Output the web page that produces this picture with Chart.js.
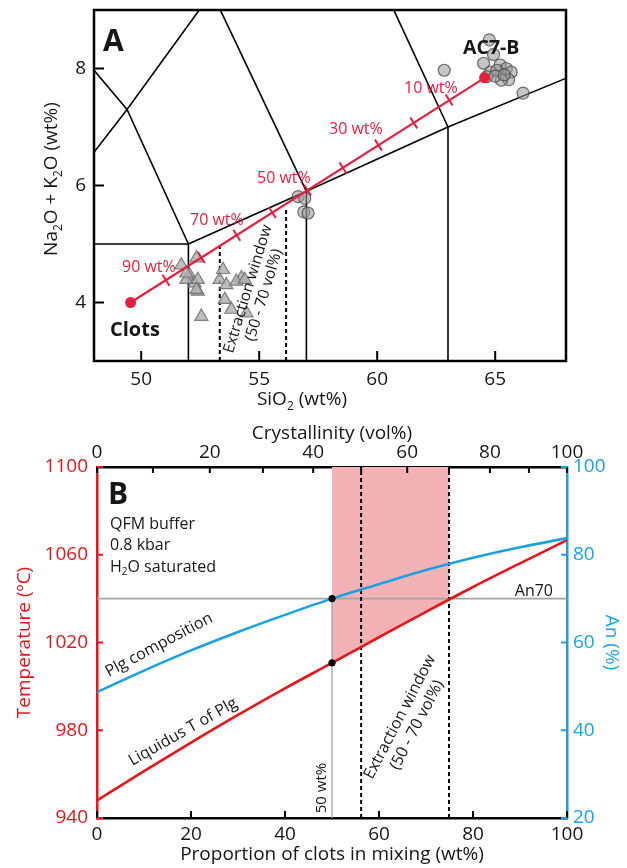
<!DOCTYPE html>
<html>
<head>
<meta charset="utf-8">
<title>Clots mixing</title>
<script src="https://cdn.jsdelivr.net/npm/chart.js@4.4.1/dist/chart.umd.min.js"></script>
<style>
  html, body { margin: 0; padding: 0; background: #fff; }
  canvas { position: absolute; left: 0; }
  #chartA { top: 0; }
  #chartB { top: 405px; }
</style>
</head>
<body>
<canvas id="chartA" width="627" height="415"></canvas>
<canvas id="chartB" width="627" height="463"></canvas>
<script>
// ---------- panel A : TAS diagram ----------
var SIO2_TICKS = [50, 55, 60, 65];
var ALK_TICKS = [4, 6, 8];

// TAS field boundaries, [SiO2, Na2O+K2O]
var TAS_BOUNDARIES = [
  [[45, 5], [52, 5], [52, 0]],
  [[52, 5], [57, 5.9], [63, 7], [69, 8]],
  [[57, 0], [57, 5.9]],
  [[63, 0], [63, 7]],
  [[45, 9.4], [49.4, 7.3], [52, 5]],
  [[45, 5], [49.4, 7.3], [53, 9.3]],
  [[57, 5.9], [53, 9.3]],
  [[63, 7], [57.6, 11.7]]
];

// mixing end members : clots, AC7-B
var END_SIO2 = [49.55, 64.55];
var END_ALK = [4.0, 7.84];
// marks every 10 wt% clots (10 ... 90)
var MARK_SIO2 = [63.05, 61.55, 60.05, 58.55, 57.05, 55.55, 54.05, 52.55, 51.05];
var MARK_ALK = [7.46, 7.07, 6.69, 6.30, 5.92, 5.54, 5.15, 4.77, 4.38];

// extraction window (50 - 70 vol%)
var WIN_SIO2 = [53.33, 56.14];
var WIN_TOP_ALK = [4.95, 5.62];

// whole rock data
var CIRC_SIO2 = [64.75, 62.84, 64.93, 64.51, 65.21, 65.47, 65.68, 65.57, 65.26, 64.79, 65.07, 66.18, 64.65, 65.0, 65.38, 56.65, 56.93, 56.89, 57.07];
var CIRC_ALK = [8.49, 7.97, 8.24, 8.09, 8.06, 8.0, 7.94, 7.81, 7.80, 7.94, 7.97, 7.58, 7.86, 7.87, 7.89, 5.81, 5.78, 5.55, 5.53];
var TRI_SIO2 = [52.34, 51.70, 52.05, 51.91, 52.26, 52.40, 52.55, 51.91, 52.40, 52.34, 53.47, 53.32, 53.61, 54.25, 54.03, 53.54, 53.82, 54.46, 54.39];
var TRI_ALK = [4.76, 4.64, 4.47, 4.39, 4.33, 4.19, 3.76, 4.50, 4.39, 4.22, 4.56, 4.39, 4.30, 4.42, 4.36, 4.05, 3.88, 3.82, 4.39];

// ---------- panel B : mixing model ----------
var MIX_TICKS = [0, 20, 40, 60, 80, 100];
var TEMP_TICKS = [940, 980, 1020, 1060, 1100];
var AN_TICKS = [20, 40, 60, 80, 100];
// crystallinity (vol%) and where it falls on the wt% axis
var CRYST_VOL = [0, 10, 20, 30, 40, 50, 60, 70, 80, 90, 100];
var CRYST_WT = [0, 11.9, 24.0, 35.3, 46.0, 56.2, 66.0, 74.9, 83.6, 91.9, 100];

var MIX_WT = [0, 10, 20, 30, 40, 50, 60, 70, 80, 90, 100];
var LIQ_T = [948, 961.4, 974.4, 987.0, 999.1, 1010.7, 1022.4, 1034.0, 1045.3, 1056.1, 1066.7];
var AN_PLG = [48.7, 53.6, 58.2, 62.4, 66.3, 70.0, 73.3, 76.5, 79.3, 81.7, 83.8];

var WINDOW_WT = [50, 60, 70, 74.9];
var WINDOW_T = [1010.7, 1022.4, 1034.0, 1039.7];
var EXTRACT_WT = [56.2, 74.9];
var AN_REF = 70;
var REF_WT = 50;

var RED_A = '#e5203f';
var RED = '#e8141c';
var BLUE = '#1ba1e2';
var FONT = '"Open Sans", sans-serif';

Chart.defaults.font.family = FONT;
Chart.defaults.font.size = 19;
Chart.defaults.color = '#161616';

function pts(xs, ys) {
  return xs.map(function(x, i) { return { x: x, y: ys[i] }; });
}

function fixedTicks(values) {
  return function(s) { s.ticks = values.map(function(v) { return { value: v }; }); };
}

// keep the plot area where it is asked to be
function noPad(s) {
  s.paddingTop = 0; s.paddingBottom = 0; s.paddingLeft = 0; s.paddingRight = 0;
}

// ticks drawn on the inside of the frame
var innerTicks = {
  id: 'innerTicks',
  afterDraw: function(chart, args, opts) {
    var ctx = chart.ctx, a = chart.chartArea;
    (opts.axes || []).forEach(function(ax) {
      var s = chart.scales[ax.id];
      ctx.save();
      ctx.strokeStyle = ax.color;
      ctx.lineWidth = ax.width;
      s.ticks.forEach(function(t) {
        var p = s.getPixelForValue(t.value);
        ctx.beginPath();
        if (s.position === 'bottom') { ctx.moveTo(p, a.bottom); ctx.lineTo(p, a.bottom - ax.len); }
        else if (s.position === 'top') { ctx.moveTo(p, a.top); ctx.lineTo(p, a.top + ax.len); }
        else if (s.position === 'left') { ctx.moveTo(a.left, p); ctx.lineTo(a.left + ax.len, p); }
        else { ctx.moveTo(a.right, p); ctx.lineTo(a.right - ax.len, p); }
        ctx.stroke();
      });
      ctx.restore();
    });
  }
};

var frame = {
  id: 'frame',
  afterDatasetsDraw: function(chart, args, opts) {
    var a = chart.chartArea, ctx = chart.ctx;
    ctx.save();
    ctx.strokeStyle = '#000';
    ctx.lineWidth = opts.width;
    ctx.strokeRect(a.left, a.top, a.right - a.left, a.bottom - a.top);
    ctx.restore();
  }
};

// text with {n} subscripts
function richText(ctx, it) {
  var parts = it.text.split(/(\{[^}]*\})/).filter(function(p) { return p.length; });
  var w0 = it.bold ? 'bold ' : '';
  var full = w0 + it.size + 'px ' + FONT;
  var small = w0 + Math.round(it.size * 0.62) + 'px ' + FONT;
  var segs = [], w = 0;
  parts.forEach(function(p) {
    var sub = p.charAt(0) === '{';
    var t = sub ? p.slice(1, -1) : p;
    ctx.font = sub ? small : full;
    var sw = ctx.measureText(t).width;
    segs.push({ t: t, sub: sub, w: sw });
    w += sw;
  });
  ctx.save();
  ctx.translate(it.x, it.y);
  if (it.rot) ctx.rotate(it.rot * Math.PI / 180);
  ctx.fillStyle = it.color || '#161616';
  ctx.textBaseline = 'middle';
  ctx.textAlign = 'left';
  var x0 = it.align === 'left' ? 0 : (it.align === 'right' ? -w : -w / 2);
  segs.forEach(function(s) {
    ctx.font = s.sub ? small : full;
    ctx.fillText(s.t, x0, s.sub ? it.size * 0.32 : 0);
    x0 += s.w;
  });
  ctx.restore();
}

var notes = {
  id: 'notes',
  afterDraw: function(chart, args, opts) {
    (opts.items || []).forEach(function(it) { richText(chart.ctx, it); });
  }
};

// ---------- chart A ----------
var dsA = [];
dsA.push({ data: pts(END_SIO2, END_ALK), pointRadius: 5.5,
  pointBackgroundColor: RED_A, pointBorderColor: RED_A, pointBorderWidth: 0, order: 0 });
dsA.push({ data: pts(MARK_SIO2, MARK_ALK), pointStyle: 'line', rotation: 57.5, pointRadius: 6.5,
  pointBorderColor: RED_A, pointBorderWidth: 2, order: 1 });
dsA.push({ data: pts(END_SIO2, END_ALK), showLine: true, pointRadius: 0,
  borderColor: RED_A, borderWidth: 2.2, order: 2 });
dsA.push({ data: pts(CIRC_SIO2, CIRC_ALK), pointRadius: 6,
  pointBackgroundColor: 'rgba(150,150,150,0.55)', pointBorderColor: 'rgba(70,70,70,0.75)', pointBorderWidth: 1.2, order: 3 });
dsA.push({ data: pts(TRI_SIO2, TRI_ALK), pointStyle: 'triangle', pointRadius: 7.5,
  pointBackgroundColor: 'rgba(178,178,178,0.85)', pointBorderColor: 'rgba(115,115,115,0.9)', pointBorderWidth: 1.2, order: 4 });
WIN_SIO2.forEach(function(x, i) {
  dsA.push({ data: [{ x: x, y: 3 }, { x: x, y: WIN_TOP_ALK[i] }], showLine: true, pointRadius: 0,
    borderColor: '#000', borderWidth: 2, borderDash: [4, 3], order: 5 });
});
TAS_BOUNDARIES.forEach(function(line) {
  dsA.push({ data: line.map(function(p) { return { x: p[0], y: p[1] }; }), showLine: true, pointRadius: 0,
    borderColor: '#000', borderWidth: 1.6, order: 6 });
});

new Chart(document.getElementById('chartA').getContext('2d'), {
  type: 'scatter',
  data: { datasets: dsA },
  options: {
    responsive: false,
    animation: false,
    layout: { padding: { top: 10, right: 61, left: 0, bottom: 0 } },
    plugins: {
      legend: { display: false },
      tooltip: { enabled: false },
      frame: { width: 2.5 },
      innerTicks: { axes: [
        { id: 'x', len: 10, color: '#000', width: 2 },
        { id: 'y', len: 10, color: '#000', width: 2 }
      ] },
      notes: { items: [
        { text: 'A', x: 103, y: 42, size: 30, bold: true, align: 'left' },
        { text: 'AC7-B', x: 463, y: 48, size: 19.5, bold: true, align: 'left' },
        { text: 'Clots', x: 110, y: 330, size: 20, bold: true, align: 'left' },
        { text: '10 wt%', x: 404, y: 88, size: 16, color: RED_A, align: 'left' },
        { text: '30 wt%', x: 329, y: 129, size: 16, color: RED_A, align: 'left' },
        { text: '50 wt%', x: 257, y: 178, size: 16, color: RED_A, align: 'left' },
        { text: '70 wt%', x: 190, y: 220, size: 16, color: RED_A, align: 'left' },
        { text: '90 wt%', x: 122, y: 267, size: 16, color: RED_A, align: 'left' },
        { text: 'Extraction window', x: 248, y: 289, size: 15.5, rot: -73 },
        { text: '(50 - 70 vol%)', x: 264, y: 295, size: 15.5, rot: -73 },
        { text: 'SiO{2} (wt%)', x: 302, y: 400, size: 19 },
        { text: 'Na{2}O + K{2}O (wt%)', x: 52, y: 179, size: 19, rot: -90 }
      ] }
    },
    scales: {
      x: {
        type: 'linear', min: 48, max: 68,
        afterBuildTicks: fixedTicks(SIO2_TICKS),
        afterFit: function(s) { s.height = 54; noPad(s); },
        grid: { display: false, drawTicks: false },
        border: { display: false },
        ticks: { padding: 7, autoSkip: false, maxRotation: 0 }
      },
      y: {
        type: 'linear', min: 3, max: 9,
        afterBuildTicks: fixedTicks(ALK_TICKS),
        afterFit: function(s) { s.width = 94; noPad(s); },
        grid: { display: false, drawTicks: false },
        border: { display: false },
        ticks: { padding: 8, autoSkip: false }
      }
    }
  },
  plugins: [innerTicks, frame, notes]
});

// ---------- chart B ----------
var dsB = [];
dsB.push({ data: [{ x: REF_WT, y: AN_PLG[MIX_WT.indexOf(REF_WT)] }], yAxisID: 'yAn', pointRadius: 3.2,
  pointBackgroundColor: '#000', pointBorderColor: '#000', order: 0 });
dsB.push({ data: [{ x: REF_WT, y: LIQ_T[MIX_WT.indexOf(REF_WT)] }], yAxisID: 'yT', pointRadius: 3.2,
  pointBackgroundColor: '#000', pointBorderColor: '#000', order: 0 });
dsB.push({ data: pts(MIX_WT, AN_PLG), yAxisID: 'yAn', showLine: true, pointRadius: 0,
  borderColor: BLUE, borderWidth: 2.6, cubicInterpolationMode: 'monotone', order: 1 });
dsB.push({ data: pts(MIX_WT, LIQ_T), yAxisID: 'yT', showLine: true, pointRadius: 0,
  borderColor: RED, borderWidth: 2.6, cubicInterpolationMode: 'monotone', order: 2 });
EXTRACT_WT.forEach(function(x) {
  dsB.push({ data: [{ x: x, y: 20 }, { x: x, y: 100 }], yAxisID: 'yAn', showLine: true, pointRadius: 0,
    borderColor: '#000', borderWidth: 2, borderDash: [4, 3], order: 3 });
});
dsB.push({ data: [{ x: 0, y: AN_REF }, { x: 100, y: AN_REF }], yAxisID: 'yAn', showLine: true, pointRadius: 0,
  borderColor: '#a3a3a3', borderWidth: 1.6, order: 4 });
dsB.push({ data: [{ x: REF_WT, y: 20 }, { x: REF_WT, y: AN_REF }], yAxisID: 'yAn', showLine: true, pointRadius: 0,
  borderColor: '#a3a3a3', borderWidth: 1.3, order: 4 });
dsB.push({ data: pts(WINDOW_WT, WINDOW_T), yAxisID: 'yT', showLine: true, pointRadius: 0,
  borderWidth: 0, borderColor: 'rgba(0,0,0,0)', backgroundColor: '#f3b3b6', fill: 'end', order: 5 });

new Chart(document.getElementById('chartB').getContext('2d'), {
  type: 'scatter',
  data: { datasets: dsB },
  options: {
    responsive: false,
    animation: false,
    layout: { padding: 0 },
    plugins: {
      legend: { display: false },
      tooltip: { enabled: false },
      innerTicks: { axes: [
        { id: 'x', len: 7, color: '#000', width: 2 },
        { id: 'xTop', len: 6, color: '#000', width: 2 },
        { id: 'yT', len: 6, color: RED, width: 2 },
        { id: 'yAn', len: 6, color: BLUE, width: 2 }
      ] },
      notes: { items: [
        { text: 'B', x: 108, y: 90, size: 30, bold: true, align: 'left' },
        { text: 'QFM buffer', x: 110, y: 119, size: 16, align: 'left' },
        { text: '0.8 kbar', x: 110, y: 140, size: 16, align: 'left' },
        { text: 'H{2}O saturated', x: 110, y: 162, size: 16, align: 'left' },
        { text: 'An70', x: 553, y: 186, size: 16, align: 'right' },
        { text: 'Plg composition', x: 159, y: 240, size: 16, rot: -28 },
        { text: 'Liquidus T of Plg', x: 183, y: 327, size: 16, rot: -29.5 },
        { text: '50 wt%', x: 322, y: 383, size: 15, rot: -90 },
        { text: 'Extraction window', x: 400, y: 312, size: 16, rot: -62.5 },
        { text: '(50 - 70 vol%)', x: 417, y: 320, size: 16, rot: -62.5 }
      ] }
    },
    scales: {
      x: {
        type: 'linear', position: 'bottom', min: 0, max: 100,
        afterBuildTicks: fixedTicks(MIX_TICKS),
        afterFit: function(s) { s.height = 50; noPad(s); },
        grid: { display: false, drawTicks: false },
        border: { display: true, color: '#000', width: 2.5 },
        ticks: { padding: 5, autoSkip: false, maxRotation: 0 },
        title: { display: true, text: 'Proportion of clots in mixing (wt%)', padding: { top: 0, bottom: 2 } }
      },
      xTop: {
        type: 'linear', position: 'top', min: 0, max: 100,
        afterBuildTicks: fixedTicks(CRYST_WT),
        afterFit: function(s) { s.height = 62; noPad(s); },
        grid: { display: false, drawTicks: false },
        border: { display: true, color: '#000', width: 2.5 },
        ticks: {
          padding: 3, autoSkip: false, maxRotation: 0,
          callback: function(v, i) { return CRYST_VOL[i] % 20 === 0 ? String(CRYST_VOL[i]) : ''; }
        },
        title: { display: true, text: 'Crystallinity (vol%)', padding: { top: 17, bottom: 0 } }
      },
      yT: {
        type: 'linear', position: 'left', min: 940, max: 1100,
        afterBuildTicks: fixedTicks(TEMP_TICKS),
        afterFit: function(s) { s.width = 97; noPad(s); },
        grid: { display: false, drawTicks: false },
        border: { display: true, color: RED, width: 2.5 },
        ticks: { padding: 9, autoSkip: false, color: RED, callback: function(v) { return String(v); } },
        title: { display: true, text: 'Temperature (ºC)', color: RED, padding: { top: 13, bottom: 0 } }
      },
      yAn: {
        type: 'linear', position: 'right', min: 20, max: 100,
        afterBuildTicks: fixedTicks(AN_TICKS),
        afterFit: function(s) { s.width = 60; noPad(s); },
        grid: { display: false, drawTicks: false },
        border: { display: true, color: BLUE, width: 2.5 },
        ticks: { padding: 6, autoSkip: false, color: BLUE },
        title: { display: true, text: 'An (%)', color: BLUE, padding: { top: 4, bottom: 0 } }
      }
    }
  },
  plugins: [innerTicks, notes]
});
</script>
</body>
</html>
